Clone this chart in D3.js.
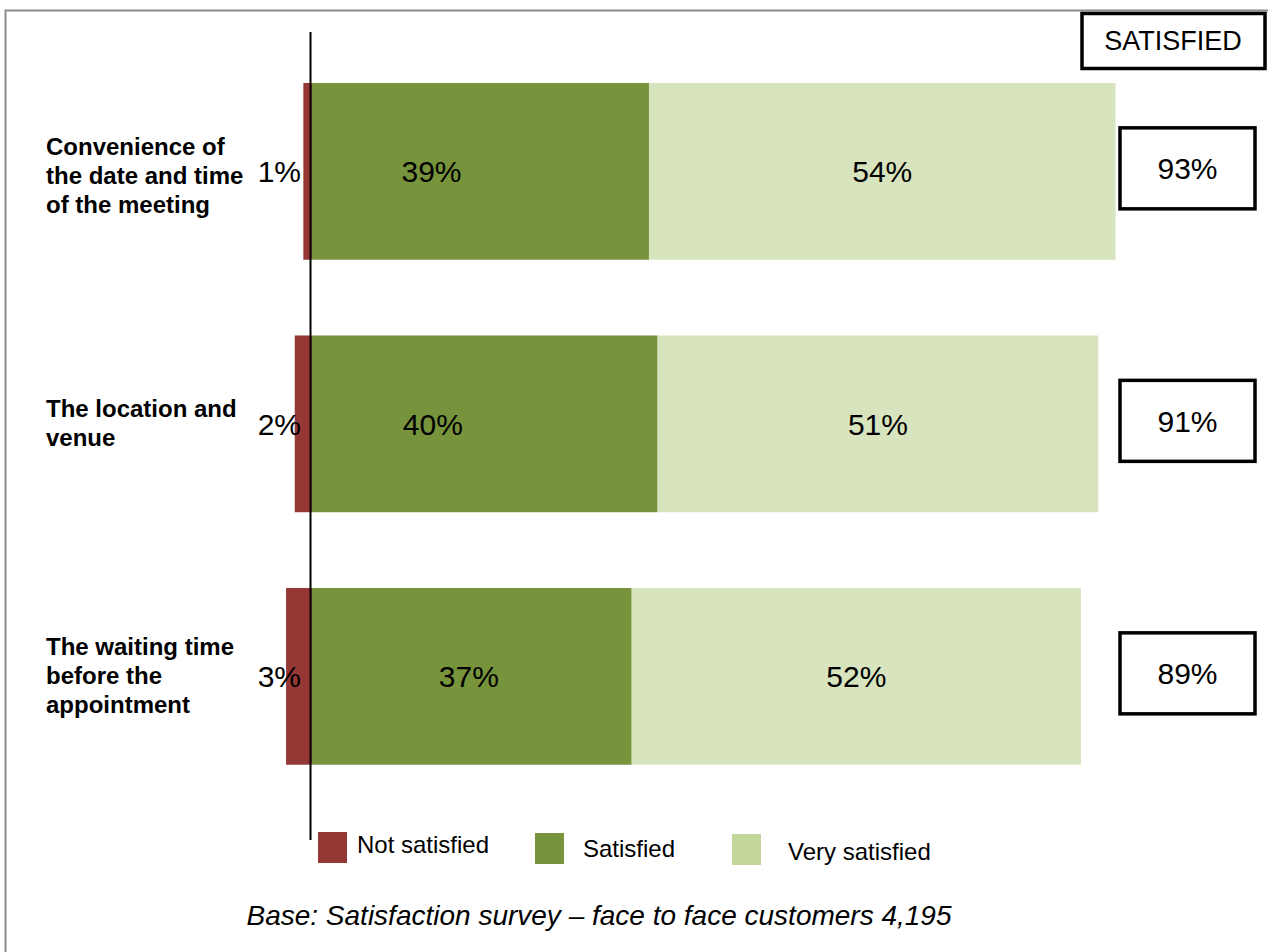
<!DOCTYPE html>
<html>
<head>
<meta charset="utf-8">
<script src="https://cdn.jsdelivr.net/npm/d3@7/dist/d3.min.js"></script>
<style>
  html, body { margin: 0; padding: 0; background: #fff; }
  svg { display: block; font-family: "Liberation Sans", Arial, sans-serif; }
</style>
</head>
<body>
<div id="chart"></div>
<script>
// ---- data ----
const categories = [
  "Convenience of the date and time of the meeting",
  "The location and venue",
  "The waiting time before the appointment"
];
const categoryLines = [
  ["Convenience of", "the date and time", "of the meeting"],
  ["The location and", "venue"],
  ["The waiting time", "before the", "appointment"]
];
const notSatisfied = [1, 2, 3];
const satisfied = [39, 40, 37];
const verySatisfied = [54, 51, 52];
const totalSatisfied = [93, 91, 89];
const seriesNames = ["Not satisfied", "Satisfied", "Very satisfied"];
const footnote = "Base: Satisfaction survey \u2013 face to face customers 4,195";
const boxTitle = "SATISFIED";

// ---- layout ----
const W = 1268, H = 952;
const svg = d3.select("#chart").append("svg").attr("width", W).attr("height", H);

const x = d3.scaleLinear().domain([0, 100]).range([312, 1176]);
const y = d3.scaleBand().domain(categories).range([45.1, 802.6])
  .paddingInner(0.3).paddingOuter(0.15);

const colNot = "#953735", colSat = "#77933C", colVery = "#D7E4BD", colVeryLegend = "#C3D69B";

// outer frame
svg.append("rect").attr("x", 5.5).attr("y", 10.5).attr("width", 1400).attr("height", 1200)
  .attr("fill", "none").attr("stroke", "#8c8c8c").attr("stroke-width", 2);

const rows = categories.map((c, i) => ({
  cat: c, lines: categoryLines[i], ns: notSatisfied[i], s: satisfied[i], vs: verySatisfied[i], tot: totalSatisfied[i], i
}));

const g = svg.append("g");

// bars
g.selectAll("rect.ns").data(rows).join("rect").attr("class", "ns")
  .attr("x", d => x(-d.ns)).attr("width", d => x(0) - x(-d.ns))
  .attr("y", d => y(d.cat)).attr("height", y.bandwidth()).attr("fill", colNot);
g.selectAll("rect.s").data(rows).join("rect").attr("class", "s")
  .attr("x", x(0)).attr("width", d => x(d.s) - x(0))
  .attr("y", d => y(d.cat)).attr("height", y.bandwidth()).attr("fill", colSat);
g.selectAll("rect.vs").data(rows).join("rect").attr("class", "vs")
  .attr("x", d => x(d.s)).attr("width", d => x(d.s + d.vs) - x(d.s))
  .attr("y", d => y(d.cat)).attr("height", y.bandwidth()).attr("fill", colVery);

// axis line
svg.append("line").attr("x1", 310.5).attr("x2", 310.5).attr("y1", 32).attr("y2", 840)
  .attr("stroke", "#000").attr("stroke-width", 2);

const cy = d => y(d.cat) + y.bandwidth() / 2;

// value labels
g.selectAll("text.nsl").data(rows).join("text").attr("class", "nsl")
  .attr("x", x(0) - 11).attr("y", d => cy(d) + 11).attr("text-anchor", "end")
  .attr("font-size", 30).attr("fill", "#000").text(d => d.ns + "%");
const satLabelDx = [-49, -52, -3];
g.selectAll("text.sl").data(rows).join("text").attr("class", "sl")
  .attr("x", d => (x(0) + x(d.s)) / 2 + satLabelDx[d.i]).attr("y", d => cy(d) + 11).attr("text-anchor", "middle")
  .attr("font-size", 30).attr("fill", "#000").text(d => d.s + "%");
g.selectAll("text.vsl").data(rows).join("text").attr("class", "vsl")
  .attr("x", d => (x(d.s) + x(d.s + d.vs)) / 2).attr("y", d => cy(d) + 11).attr("text-anchor", "middle")
  .attr("font-size", 30).attr("fill", "#000").text(d => d.vs + "%");

// category labels
const lh = 29;
const catLabelDy = [5, 0, 0];
rows.forEach(d => {
  const n = d.lines.length;
  const t = g.append("text").attr("font-size", 24).attr("font-weight", "bold").attr("fill", "#000");
  d.lines.forEach((ln, k) => {
    t.append("tspan").attr("x", 46).attr("y", cy(d) - (n - 1) / 2 * lh + 8 + catLabelDy[d.i] + k * lh).text(ln);
  });
});

// total boxes
const boxX = 1120, boxW = 135, boxH = 81;
g.selectAll("rect.box").data(rows).join("rect").attr("class", "box")
  .attr("x", boxX).attr("y", d => cy(d) - 3 - boxH / 2).attr("width", boxW).attr("height", boxH)
  .attr("fill", "#fff").attr("stroke", "#000").attr("stroke-width", 3.5);
g.selectAll("text.tot").data(rows).join("text").attr("class", "tot")
  .attr("x", boxX + boxW / 2).attr("y", d => cy(d) - 3 + 11).attr("text-anchor", "middle")
  .attr("font-size", 30).attr("fill", "#000").text(d => d.tot + "%");

// header box
svg.append("rect").attr("x", 1082).attr("y", 13.5).attr("width", 183).attr("height", 55)
  .attr("fill", "#fff").attr("stroke", "#000").attr("stroke-width", 3.5);
svg.append("text").attr("x", 1173).attr("y", 50).attr("text-anchor", "middle")
  .attr("font-size", 27).attr("fill", "#000").text(boxTitle);

// legend
const legendPos = [
  { sx: 318, sy: 832, tx: 357, ty: 853 },
  { sx: 535, sy: 833, tx: 583, ty: 857 },
  { sx: 732, sy: 834, tx: 788, ty: 860 }
];
const legendColors = [colNot, colSat, colVeryLegend];
seriesNames.forEach((nm, i) => {
  const p = legendPos[i];
  svg.append("rect").attr("x", p.sx).attr("y", p.sy).attr("width", 29).attr("height", 31).attr("fill", legendColors[i]);
  svg.append("text").attr("x", p.tx).attr("y", p.ty).attr("font-size", 24).attr("fill", "#000").text(nm);
});

// footnote
svg.append("text").attr("x", 599).attr("y", 925).attr("text-anchor", "middle")
  .attr("font-size", 28).attr("font-style", "italic").attr("fill", "#000").text(footnote);
</script>
</body>
</html>
